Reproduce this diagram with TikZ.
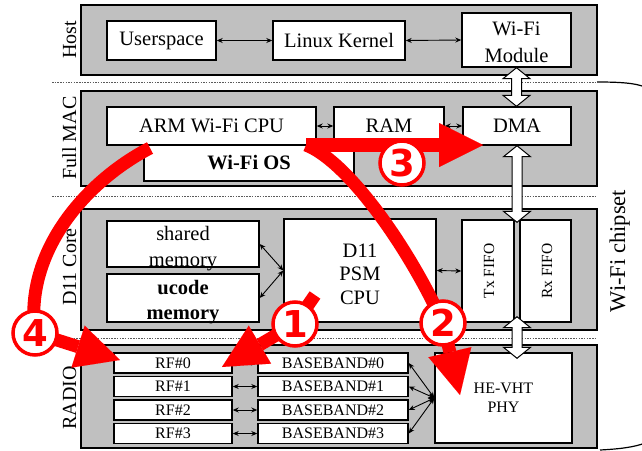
\documentclass[tikz,border=0pt]{standalone}
\usepackage{fontspec}
\setmainfont{Liberation Serif}
\newfontfamily\numfont{DejaVu Sans}
\usetikzlibrary{arrows.meta,calc}

\definecolor{panelgray}{RGB}{192,192,192}
\definecolor{flowred}{RGB}{255,0,0}
\definecolor{sepgray}{RGB}{90,90,90}

\newcommand\bigtxt{\fontsize{20.5}{26}\selectfont}
\newcommand\sidetxt{\fontsize{20}{24}\selectfont}
\newcommand\smalltxt{\fontsize{16}{19.5}\selectfont}
\newcommand\fifotxt{\fontsize{15.5}{18}\selectfont}

% white double arrow with a black outline, vertical, from #1 (top) to #2 (bottom)
\newcommand\hollowdbl[2]{%
  \filldraw[hollow] let \p1=(#1), \p2=(#2) in
    (\x1,\y1) -- (\x1+13.5pt,\y1-11pt) -- (\x1+5pt,\y1-11pt)
    -- (\x1+5pt,\y2+11pt) -- (\x1+13.5pt,\y2+11pt) -- (\x1,\y2)
    -- (\x1-13.5pt,\y2+11pt) -- (\x1-5pt,\y2+11pt)
    -- (\x1-5pt,\y1-11pt) -- (\x1-13.5pt,\y1-11pt) -- cycle;}

\tikzset{
  panel/.style={draw=black, line width=1.5pt, fill=panelgray, inner sep=0pt},
  box/.style={draw=black, line width=1.4pt, fill=white, inner sep=0pt, align=center},
  boxtext/.style={inner sep=0pt, align=center},
  sidelabel/.style={rotate=90, anchor=base, inner sep=0pt, font=\sidetxt},
  sep/.style={draw=sepgray, line width=1pt, dash pattern=on 1.5pt off 1.2pt},
  dbl/.style={line width=0.9pt,
    {Stealth[length=6pt,width=5pt]}-{Stealth[length=6pt,width=5pt]}},
  hollow/.style={draw=black, fill=white, line width=1pt, line join=miter},
  flow/.style={draw=flowred, line width=13pt, line join=round,
    -{Triangle[length=44pt,width=44pt,line width=0.01pt]}},
  numcirc/.style={circle, draw=flowred, line width=3.5pt, fill=white,
    minimum size=44pt, inner sep=0pt, text=flowred,
    font=\numfont\bfseries\fontsize{37}{37}\selectfont},
}

\begin{document}
\begin{tikzpicture}[x=1pt,y=-1pt]
\useasboundingbox (0,0) rectangle (642,450);

% layer panels
\node[panel, minimum width=516pt, minimum height=70pt]  (hostp)  at (339,40)    {};
\node[panel, minimum width=516pt, minimum height=95pt]  (macp)   at (339,138.5) {};
\node[panel, minimum width=516pt, minimum height=121pt] (d11p)   at (339,269.5) {};
\node[panel, minimum width=516pt, minimum height=103pt] (radiop) at (339,396.5) {};

% layer separators and the chipset brace
\foreach \yy in {82,196,338} \draw[sep] (52,\yy) -- (597,\yy);
\draw[line width=1.2pt] (597,82) .. controls (620,82) and (635,83) .. (645,87);
\draw[line width=1.2pt] (600,450) .. controls (620,449) and (635,447) .. (645,443);

% layer names
\node[sidelabel] at (76,40)  {Host};
\node[sidelabel] at (76,138) {Full MAC};
\node[sidelabel] at (76,267) {D11 Core};
\node[sidelabel] at (76,398) {RADIO};
\node[rotate=90, anchor=base, inner sep=0pt, font=\fontsize{22.5}{26}\selectfont]
  at (625,251) {Wi-Fi chipset};

% host
\node[box, font=\bigtxt, minimum width=109pt, minimum height=39pt] (user)   at (161.5,40.5) {Userspace};
\node[box, font=\bigtxt, minimum width=132pt, minimum height=39pt] (kernel) at (339,40.5)   {Linux Kernel};
\node[box, font=\bigtxt, minimum width=109pt, minimum height=54pt] (module) at (516.5,40)   {};
\node[boxtext, font=\fontsize{20.5}{27}\selectfont] (moduletext) at (516.5,42) {Wi-Fi\\Module};
\draw[dbl] (user.east) -- (kernel.west);
\draw[dbl] (kernel.east) -- (module.west);

% full MAC
\node[box, font=\bigtxt\bfseries, minimum width=210pt, minimum height=36pt] (wifios) at (249,163) {Wi-Fi OS};
\node[box, font=\bigtxt, minimum width=209pt, minimum height=38pt] (arm) at (211.5,126) {ARM Wi-Fi CPU};
\node[box, font=\bigtxt, minimum width=110pt, minimum height=38pt] (ram) at (389,126)   {RAM};
\node[box, font=\bigtxt, minimum width=108pt, minimum height=38pt] (dma) at (517,126)   {DMA};
\draw[dbl] (arm.east) -- (ram.west);
\draw[dbl] (ram.east) -- (dma.west);

% D11 core
\node[box, minimum width=152pt, minimum height=46pt] (shared) at (183,244) {};
\node[boxtext, font=\bigtxt] (sharedtext) at (183,249) {shared\\memory};
\node[box, minimum width=152pt, minimum height=48pt] (ucode) at (183,298) {};
\node[boxtext, font=\fontsize{20.5}{25}\selectfont\bfseries] (ucodetext) at (183,302) {ucode\\memory};
\node[box, minimum width=152pt, minimum height=103pt] (psm) at (360,270.5) {};
\node[boxtext, font=\fontsize{20.5}{23.5}\selectfont] (psmtext) at (360,274) {D11\\PSM\\CPU};
\node[box, minimum width=52pt, minimum height=102pt] (txfifo) at (488,271)   {};
\node[box, minimum width=51pt, minimum height=102pt] (rxfifo) at (545.5,271) {};
\node[rotate=90, anchor=base, inner sep=0pt, font=\fifotxt] at (494,271) {Tx FIFO};
\node[rotate=90, anchor=base, inner sep=0pt, font=\fifotxt] at (552,271) {Rx FIFO};
\coordinate (psmin) at (psm.west);
\draw[dbl] (shared.east) -- (psmin);
\draw[dbl] (ucode.east) -- (psmin);
\draw[dbl] (psm.east) -- (txfifo.west);

% radio
\foreach \i/\yy in {0/363,1/386.5,2/410,3/433.5}{
  \node[box, font=\smalltxt, minimum width=118pt, minimum height=20pt] (rf\i) at (173,\yy) {RF\#\i};
  \node[box, font=\smalltxt, minimum width=150pt, minimum height=20pt] (bb\i) at (333,\yy) {BASEBAND\#\i};
  \draw[dbl] (rf\i.east) -- (bb\i.west);
}
\node[box, font=\smalltxt, minimum width=137pt, minimum height=90pt] (phy) at (503.5,398) {HE-VHT\\PHY};
\coordinate (phyin) at (phy.west);
\foreach \i in {0,1,2,3} \draw[dbl] (bb\i.east) -- (phyin);

% data paths between the layers
\coordinate (fifotop) at ($(txfifo.north east)!0.5!(rxfifo.north west)+(0,3)$);
\coordinate (fifobot) at ($(txfifo.south east)!0.5!(rxfifo.south west)+(0,-6)$);
\coordinate (phytop)  at ($(phy.north)+(0,6)$);
\hollowdbl{module.south}{dma.north}
\hollowdbl{dma.south}{fifotop}
\hollowdbl{fifobot}{phytop}

% numbered flows: circle positions, then the flows, then the circles on top
\coordinate (n1) at (295,324);
\coordinate (n2) at (443,323);
\coordinate (n3) at (402,163);
\coordinate (n4) at (35,333);

\coordinate (cpuout) at (306,145);
\coordinate (osout)  at (150,148);
\coordinate (psmout) at (315,295);
\coordinate (dmain)  at (483,145);
\coordinate (phyhit) at (460,395);
\coordinate (rfhitA) at (222,367);
\coordinate (rfhitB) at (120,360);

\draw[flow] (psmout) -- (n1) -- (rfhitA);
\draw[flow] (cpuout) .. controls (345,160) and (405,240) .. (n2) -- (phyhit);
\draw[flow, line width=14pt] (cpuout) -- (dmain);
\draw[flow] (osout) .. controls (88,180) and (24,250) .. (n4) -- (rfhitB);

\node[numcirc] (c1) at (n1) {1};
\node[numcirc] (c2) at (n2) {2};
\node[numcirc] (c3) at (n3) {3};
\node[numcirc] (c4) at (n4) {4};
\end{tikzpicture}
\end{document}
